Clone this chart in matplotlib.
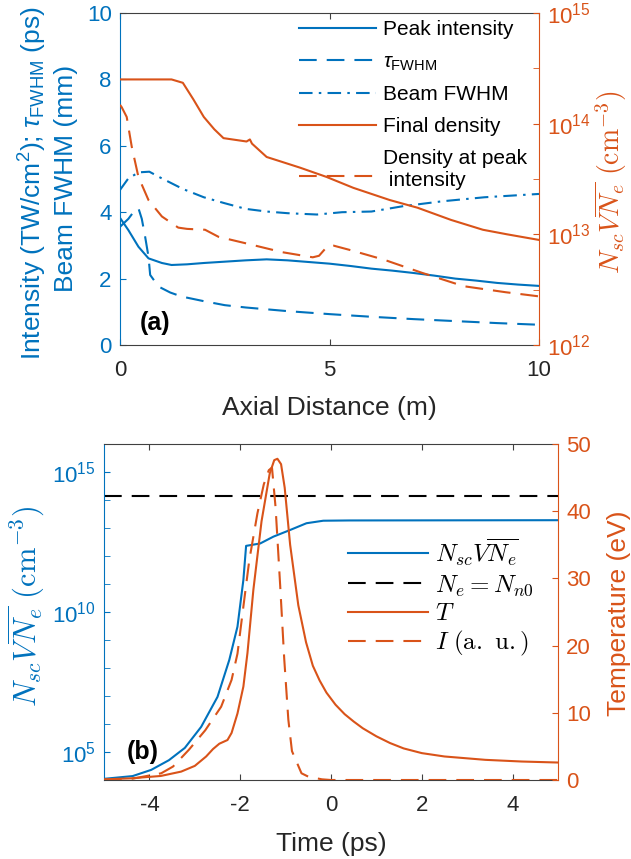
import numpy as np
import matplotlib
matplotlib.use("Agg")
import matplotlib.pyplot as plt
from matplotlib.ticker import NullFormatter, FixedLocator

# =========================
# data
# =========================

# (a) axial propagation, x in m
z_peak = [0, 0.2, 0.44, 0.68, 1.0, 1.23, 1.6, 2.0, 2.5, 3.0, 3.5, 4.0, 4.5,
          5.0, 5.5, 6.0, 6.5, 7.0, 7.5, 8.0, 8.5, 9.0, 9.5, 10]
peak_intensity = [3.83, 3.46, 2.96, 2.61, 2.47, 2.41, 2.43, 2.47, 2.51, 2.55,
                  2.58, 2.55, 2.5, 2.45, 2.38, 2.3, 2.24, 2.17, 2.09, 2.0,
                  1.94, 1.87, 1.82, 1.78]

z_tau = [0, 0.2, 0.36, 0.44, 0.52, 0.6, 0.68, 0.72, 0.92, 1.2, 1.47, 2.0,
         2.5, 3.0, 4.0, 5.0, 6.0, 7.0, 8.0, 9.0, 10]
tau_fwhm = [3.56, 3.8, 4.07, 4.12, 3.8, 3.26, 2.66, 2.11, 1.76, 1.58, 1.46,
            1.32, 1.2, 1.13, 1.02, 0.93, 0.85, 0.78, 0.72, 0.66, 0.61]

z_beam = [0, 0.2, 0.45, 0.7, 0.95, 1.5, 2.0, 2.5, 3.0, 3.5, 4.0, 4.7, 5.3,
          6.0, 6.75, 7.7, 8.7, 10]
beam_fwhm = [4.67, 5.02, 5.2, 5.22, 5.05, 4.7, 4.45, 4.27, 4.1, 4.02, 3.97,
             3.93, 4.0, 4.02, 4.18, 4.33, 4.45, 4.55]

z_final = [0, 1.23, 1.5, 1.75, 2.0, 2.25, 2.47, 3.02, 3.1, 3.15, 3.5, 3.8,
           4.3, 4.93, 5.57, 6.44, 7.1, 7.9, 8.66, 9.24, 10]
final_density = [2.51e14, 2.51e14, 2.34e14, 1.66e14, 1.15e14, 8.9e13, 7.4e13,
                 6.9e13, 7.2e13, 6.6e13, 5.0e13, 4.6e13, 4.0e13, 3.3e13,
                 2.63e13, 2.04e13, 1.74e13, 1.35e13, 1.1e13, 1.0e13, 8.9e12]

z_dpk = [0, 0.04, 0.16, 0.28, 0.44, 0.68, 1.0, 1.39, 1.6, 2.03, 2.35, 3.0,
         3.87, 4.6, 4.75, 4.95, 5.1, 5.5, 6.3, 7.2, 8.2, 9.2, 10]
density_at_peak = [1.48e14, 1.41e14, 1.15e14, 6.2e13, 3.3e13, 2.04e13,
                   1.45e13, 1.15e13, 1.12e13, 1.1e13, 9.5e12, 8.3e12, 6.9e12,
                   6.2e12, 6.4e12, 7.8e12, 7.9e12, 7.2e12, 5.9e12, 4.5e12,
                   3.4e12, 3.0e12, 2.75e12]

# (b) time evolution, t in ps
t_n = [-5, -4.37, -3.96, -3.57, -3.22, -2.86, -2.5, -2.24, -2.06, -1.93,
       -1.87, -1.56, -1.27, -0.9, -0.54, -0.17, 0.4, 5]
n_avg = [1.1e4, 1.38e4, 2.3e4, 5.1e4, 1.4e5, 7.9e5, 9.3e6, 1.95e8, 3.0e9,
         1.4e11, 2.3e12, 2.8e12, 4.9e12, 8.5e12, 1.48e13, 1.82e13, 1.86e13,
         1.9e13]

t_ne = [-5, 5]
ne_n0 = [1.35e14, 1.35e14]

t_T = [-5, -4.4, -3.75, -3.3, -3.0, -2.75, -2.6, -2.46, -2.28, -2.19, -2.06,
       -1.93, -1.84, -1.71, -1.53, -1.35, -1.25, -1.18, -1.1, -1.02, -0.9,
       -0.72, -0.55, -0.4, -0.25, -0.1, 0.1, 0.3, 0.5, 0.7, 1.0, 1.3, 1.6,
       2.0, 2.5, 3.4, 4.2, 5]
temp = [0.1, 0.25, 0.6, 1.25, 2.1, 3.5, 4.6, 5.4, 5.95, 7.0, 9.9, 13.9, 18.9,
        28.3, 38.5, 45.6, 47.6, 47.8, 47.0, 43.5, 35, 26, 20.5, 17.0, 14.8,
        13.0, 11.2, 9.8, 8.7, 7.7, 6.5, 5.5, 4.7, 4.0, 3.5, 3.0, 2.75, 2.6]

t_I = [-5, -4.37, -3.74, -3.48, -3.13, -2.77, -2.42, -2.19, -2.06, -1.93,
       -1.8, -1.62, -1.48, -1.37, -1.3, -1.22, -1.12, -1.03, -0.94, -0.86,
       -0.65, -0.5, -0.2, 0, 5]
intensity_au = [0, 0.2, 1.0, 2.0, 4.5, 7.4, 10.9, 14.9, 18.8, 25.8, 32.7,
                39.7, 44, 46.1, 46.5, 40.5, 29, 18, 9, 4.3, 1.0, 0.5, 0.1, 0, 0]

# =========================
# style
# =========================

BLUE = "#0072BD"
ORANGE = "#D95319"
DARK = "#262626"

plt.rcParams["font.family"] = ["Liberation Sans", "DejaVu Sans"]
plt.rcParams["mathtext.fontset"] = "custom"
plt.rcParams["mathtext.rm"] = "Liberation Sans"
plt.rcParams["mathtext.it"] = "Liberation Sans:italic"
plt.rcParams["mathtext.bf"] = "Liberation Sans:bold"
plt.rcParams["mathtext.sf"] = "Liberation Sans"

TICK_FS = 16
LABEL_FS = 19
LEG_FS = 15
LW = 1.5
DASH = (0, (8.5, 4.8))
DASHDOT = (0, (6.5, 3.0, 1.2, 3.0))


def style_axes(ax, ax2, left_color, right_color):
    for s in ["top", "bottom"]:
        ax.spines[s].set_color("#404040")
        ax.spines[s].set_linewidth(0.8)
        ax2.spines[s].set_visible(False)
    ax.spines["left"].set_color(left_color)
    ax.spines["left"].set_linewidth(0.8)
    ax.spines["right"].set_visible(False)
    ax2.spines["left"].set_visible(False)
    ax2.spines["right"].set_color(right_color)
    ax2.spines["right"].set_linewidth(0.8)
    ax.tick_params(axis="x", which="both", direction="in", top=True,
                   colors=DARK, labelsize=TICK_FS, pad=10.5, length=4)
    ax.tick_params(axis="x", which="both", color="#404040")
    ax.tick_params(axis="y", which="both", direction="in", colors=left_color,
                   labelsize=TICK_FS, pad=6, length=4)
    ax2.tick_params(axis="y", which="both", direction="in",
                    colors=right_color, labelsize=TICK_FS, pad=6, length=4)


fig = plt.figure(figsize=(6.31, 8.59), dpi=100)

# =========================
# (a)
# =========================

ax = fig.add_axes([120 / 631, 1 - 345 / 859, 419 / 631, 332 / 859])
ax2 = ax.twinx()

ax.plot(z_peak, peak_intensity, color=BLUE, lw=LW, label="Peak intensity")
ax.plot(z_tau, tau_fwhm, color=BLUE, lw=LW, ls=DASH,
        label=r"$\tau_{\mathrm{FWHM}}$")
ax.plot(z_beam, beam_fwhm, color=BLUE, lw=LW, ls=DASHDOT, label="Beam FWHM")
ax2.plot(z_final, final_density, color=ORANGE, lw=LW, label="Final density")
ax2.plot(z_dpk, density_at_peak, color=ORANGE, lw=LW, ls=DASH,
         label="Density at peak\n intensity")

ax.set_xlim(0, 10)
ax.set_ylim(0, 10)
ax.set_xticks([0, 5, 10])
ax.set_yticks([0, 2, 4, 6, 8, 10])
ax2.set_yscale("log")
ax2.set_ylim(1e12, 1e15)
ax2.yaxis.set_major_locator(FixedLocator([1e12, 1e13, 1e14, 1e15]))
ax2.yaxis.set_minor_locator(FixedLocator(10 ** np.arange(12.5, 15, 1.0)))
ax2.yaxis.set_minor_formatter(NullFormatter())
style_axes(ax, ax2, BLUE, ORANGE)

ax.text(0.48, 0.66, "(a)", fontsize=18, fontweight="bold", ha="left",
        va="center")

h1, l1 = ax.get_legend_handles_labels()
h2, l2 = ax2.get_legend_handles_labels()
leg = ax2.legend(h1 + h2, l1 + l2, loc="upper left",
                 bbox_to_anchor=(0.427, 0.978), frameon=False,
                 fontsize=LEG_FS, handlelength=3.7, handletextpad=0.35,
                 labelspacing=0.62, borderpad=0, borderaxespad=0)
# two-line entry: drop its sample line between the two text lines
last = leg.legend_handles[-1]
last.set_ydata(np.asarray(last.get_ydata()) - 4)

ax.set_xlabel("Axial Distance (m)", fontsize=LABEL_FS, color=DARK,
              labelpad=11)
fig.text(33 / 631, 1 - 183 / 859,
         r"Intensity (TW/cm$^2$); $\tau_{\mathrm{FWHM}}$ (ps)",
         rotation=90, ha="center", va="center", fontsize=LABEL_FS, color=BLUE)
fig.text(66 / 631, 1 - 178 / 859, "Beam FWHM (mm)", rotation=90,
         ha="center", va="center", fontsize=LABEL_FS, color=BLUE)
t = fig.text(611 / 631, 1 - 182 / 859,
             r"$N_{sc}V\overline{N_e}\ (\mathrm{cm}^{-3})$", rotation=90,
             ha="center", va="center", fontsize=20, color=ORANGE)
t.set_math_fontfamily("cm")

# =========================
# (b)
# =========================

bx = fig.add_axes([104 / 631, 1 - 780 / 859, 454 / 631, 336 / 859])
bx2 = bx.twinx()

bx.plot(t_n, n_avg, color=BLUE, lw=LW, label=r"$N_{sc}V\overline{N_e}$")
bx.plot(t_ne, ne_n0, color="black", lw=LW, ls=DASH, label=r"$N_e = N_{n0}$")
bx2.plot(t_T, temp, color=ORANGE, lw=LW, label=r"$T$")
bx2.plot(t_I, intensity_au, color=ORANGE, lw=LW, ls=DASH,
         label=r"$I\ \mathrm{(a.\ u.)}$")

bx.set_xlim(-5, 5)
bx.set_xticks([-4, -2, 0, 2, 4])
bx.set_yscale("log")
bx.set_ylim(1e4, 1e16)
bx.yaxis.set_major_locator(FixedLocator([1e5, 1e10, 1e15]))
bx.yaxis.set_minor_locator(FixedLocator(10.0 ** np.arange(4, 17)))
bx.yaxis.set_minor_formatter(NullFormatter())
bx2.set_ylim(0, 50)
bx2.set_yticks([0, 10, 20, 30, 40, 50])
style_axes(bx, bx2, BLUE, ORANGE)
bx.set_xticklabels(["-4", "-2", "0", "2", "4"])

bx.text(-4.5, 1e5, "(b)", fontsize=18, fontweight="bold", ha="left",
        va="center")

h1, l1 = bx.get_legend_handles_labels()
h2, l2 = bx2.get_legend_handles_labels()
leg2 = bx2.legend(h1 + h2, l1 + l2, loc="upper left",
                  bbox_to_anchor=(0.537, 0.725), frameon=False,
                  fontsize=18, handlelength=3.2, handletextpad=0.3,
                  labelspacing=0.15, borderpad=0, borderaxespad=0)
for txt in leg2.get_texts():
    txt.set_math_fontfamily("cm")

bx.set_xlabel("Time (ps)", fontsize=LABEL_FS, color=DARK, labelpad=12)
t = fig.text(26 / 631, 1 - 606 / 859,
             r"$N_{sc}V\overline{N_e}\ (\mathrm{cm}^{-3})$", rotation=90,
             ha="center", va="center", fontsize=22, color=BLUE)
t.set_math_fontfamily("cm")
fig.text(619 / 631, 1 - 613 / 859, "Temperature (eV)", rotation=90,
         ha="center", va="center", fontsize=LABEL_FS, color=ORANGE)

fig.savefig("out.png", dpi=100)
